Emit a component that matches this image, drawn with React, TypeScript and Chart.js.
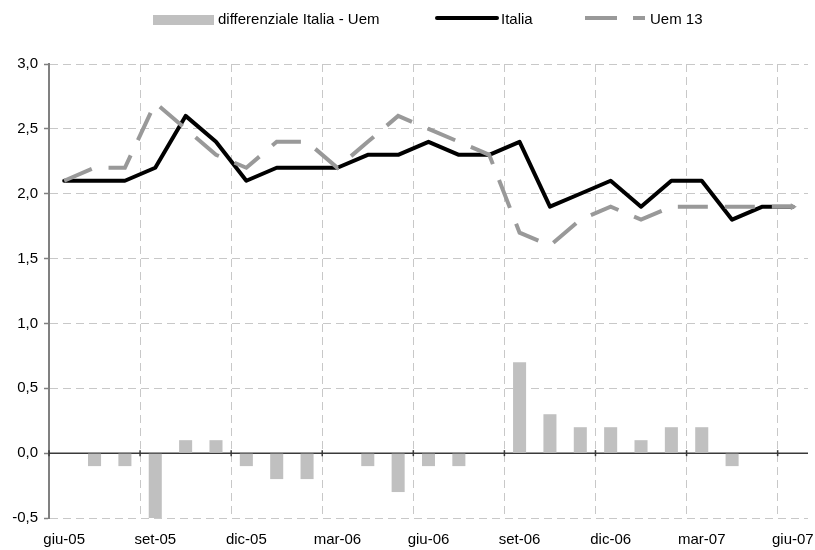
import { useEffect, useRef } from 'react';
import { Chart, registerables } from 'chart.js';

Chart.register(...registerables);

// Monthly observations, June 2005 – June 2007
const months = [
  'giu-05', 'lug-05', 'ago-05', 'set-05', 'ott-05', 'nov-05', 'dic-05',
  'gen-06', 'feb-06', 'mar-06', 'apr-06', 'mag-06', 'giu-06', 'lug-06',
  'ago-06', 'set-06', 'ott-06', 'nov-06', 'dic-06', 'gen-07', 'feb-07',
  'mar-07', 'apr-07', 'mag-07', 'giu-07',
];

const italia = [
  2.1, 2.1, 2.1, 2.2, 2.6, 2.4, 2.1, 2.2, 2.2, 2.2, 2.3, 2.3, 2.4,
  2.3, 2.3, 2.4, 1.9, 2.0, 2.1, 1.9, 2.1, 2.1, 1.8, 1.9, 1.9,
];

const uem13 = [
  2.1, 2.2, 2.2, 2.7, 2.5, 2.3, 2.2, 2.4, 2.4, 2.2, 2.4, 2.6, 2.5,
  2.4, 2.3, 1.7, 1.6, 1.8, 1.9, 1.8, 1.9, 1.9, 1.9, 1.9, 1.9,
];

const differenziale = [
  0.0, -0.1, -0.1, -0.5, 0.1, 0.1, -0.1, -0.2, -0.2, 0.0, -0.1, -0.3, -0.1,
  -0.1, 0.0, 0.7, 0.3, 0.2, 0.2, 0.1, 0.2, 0.2, -0.1, 0.0, 0.0,
];

const labelEvery = 3;

const FONT = '"Liberation Sans", Arial, Helvetica, sans-serif';
const BAR_GREY = '#c0c0c0';
const UEM_GREY = '#999999';
const GRID_GREY = '#c8c8c8';
const AXIS_GREY = '#808080';

// Solid zero line with small marks where the quarterly grid lines cross it
const zeroLinePlugin = {
  id: 'zeroLine',
  beforeDatasetsDraw(chart: any) {
    const { ctx, chartArea, scales } = chart;
    const x = scales.x;
    const y0 = scales.y.getPixelForValue(0);
    ctx.save();
    ctx.strokeStyle = '#3a3a3a';
    ctx.lineWidth = 1.5;
    ctx.beginPath();
    ctx.moveTo(chartArea.left, y0);
    ctx.lineTo(chartArea.right, y0);
    ctx.stroke();
    for (let i = 0; i < months.length; i += labelEvery) {
      const px = x.getPixelForValue(i - 0.5);
      ctx.beginPath();
      ctx.moveTo(px, y0 - 3);
      ctx.lineTo(px, y0 + 3);
      ctx.stroke();
    }
    ctx.restore();
  },
};

// Single-row legend across the top
const topLegendPlugin = {
  id: 'topLegend',
  afterDraw(chart: any) {
    const { ctx } = chart;
    const [bars, lineIt, lineUem] = chart.data.datasets;
    ctx.save();
    ctx.font = `15px ${FONT}`;
    ctx.textBaseline = 'alphabetic';
    ctx.textAlign = 'left';

    ctx.fillStyle = bars.backgroundColor;
    ctx.fillRect(153, 15, 61, 10);
    ctx.fillStyle = '#000';
    ctx.fillText(bars.label, 218, 24);

    ctx.strokeStyle = lineIt.borderColor;
    ctx.lineWidth = 4;
    ctx.lineCap = 'round';
    ctx.beginPath();
    ctx.moveTo(437, 18);
    ctx.lineTo(497, 18);
    ctx.stroke();
    ctx.fillText(lineIt.label, 501, 24);

    ctx.strokeStyle = lineUem.borderColor;
    ctx.lineCap = 'butt';
    ctx.setLineDash([32, 16]);
    ctx.beginPath();
    ctx.moveTo(585, 18);
    ctx.lineTo(645, 18);
    ctx.stroke();
    ctx.setLineDash([]);
    ctx.fillText(lineUem.label, 650, 24);
    ctx.restore();
  },
};

export default function App() {
  const canvasRef = useRef<HTMLCanvasElement | null>(null);

  useEffect(() => {
    const canvas = canvasRef.current;
    if (!canvas) return;
    const lastIndex = months.length - 1;

    const chart = new Chart(canvas, {
      type: 'bar',
      data: {
        labels: months,
        datasets: [
          {
            type: 'bar',
            label: 'differenziale Italia - Uem',
            data: differenziale,
            backgroundColor: BAR_GREY,
            borderWidth: 0,
            barPercentage: 0.43,
            categoryPercentage: 1,
            order: 2,
          },
          {
            type: 'line',
            label: 'Italia',
            data: italia,
            borderColor: '#000000',
            backgroundColor: '#000000',
            borderWidth: 4,
            borderJoinStyle: 'round',
            borderCapStyle: 'round',
            pointRadius: 0,
            tension: 0,
            fill: false,
            order: 1,
          },
          {
            type: 'line',
            label: 'Uem 13',
            data: uem13,
            borderColor: UEM_GREY,
            backgroundColor: UEM_GREY,
            borderWidth: 4,
            borderDash: [30, 17],
            borderCapStyle: 'butt',
            borderJoinStyle: 'miter',
            pointStyle: 'triangle',
            rotation: 90,
            pointRadius: (c: any) => (c.dataIndex === lastIndex ? 4 : 0),
            pointBorderWidth: 0,
            tension: 0,
            fill: false,
            order: 0,
          },
        ],
      },
      options: {
        responsive: false,
        animation: false,
        events: [],
        layout: { padding: { top: 64, right: 7, bottom: 0, left: 0 } },
        plugins: {
          legend: { display: false },
          tooltip: { enabled: false },
        },
        scales: {
          x: {
            type: 'category',
            offset: true,
            grid: {
              offset: true,
              drawTicks: false,
              lineWidth: 1,
              color: (c: any) =>
                typeof c.index === 'number' && c.index % labelEvery === 0
                  ? GRID_GREY
                  : 'rgba(0,0,0,0)',
            },
            border: { display: false, dash: [8, 5] },
            ticks: {
              autoSkip: false,
              maxRotation: 0,
              minRotation: 0,
              padding: 13,
              color: '#000',
              font: { family: FONT, size: 15 },
              callback: (_v: any, i: number) => (i % labelEvery === 0 ? months[i] : ''),
            },
            afterFit: (s: any) => {
              s.height = 32;
              s.paddingLeft = 0;
              s.paddingRight = 0;
            },
          },
          y: {
            min: -0.5,
            max: 3,
            grid: {
              color: GRID_GREY,
              lineWidth: 1,
              tickColor: AXIS_GREY,
              tickLength: 5,
              tickWidth: 1.5,
              tickBorderDash: [],
            },
            border: { display: true, color: AXIS_GREY, width: 2, dash: [8, 5] },
            ticks: {
              stepSize: 0.5,
              padding: 6,
              color: '#000',
              font: { family: FONT, size: 15 },
              callback: (v: any) => Number(v).toFixed(1).replace('.', ','),
            },
            afterFit: (s: any) => {
              s.width = 49;
            },
          },
        },
      },
      plugins: [zeroLinePlugin, topLegendPlugin],
    } as any);

    return () => chart.destroy();
  }, []);

  return (
    <div
      style={{
        position: 'fixed',
        left: 0,
        top: 0,
        width: 815,
        height: 550,
        background: '#ffffff',
      }}
    >
      <canvas ref={canvasRef} width={815} height={550} style={{ width: 815, height: 550 }} />
    </div>
  );
}
